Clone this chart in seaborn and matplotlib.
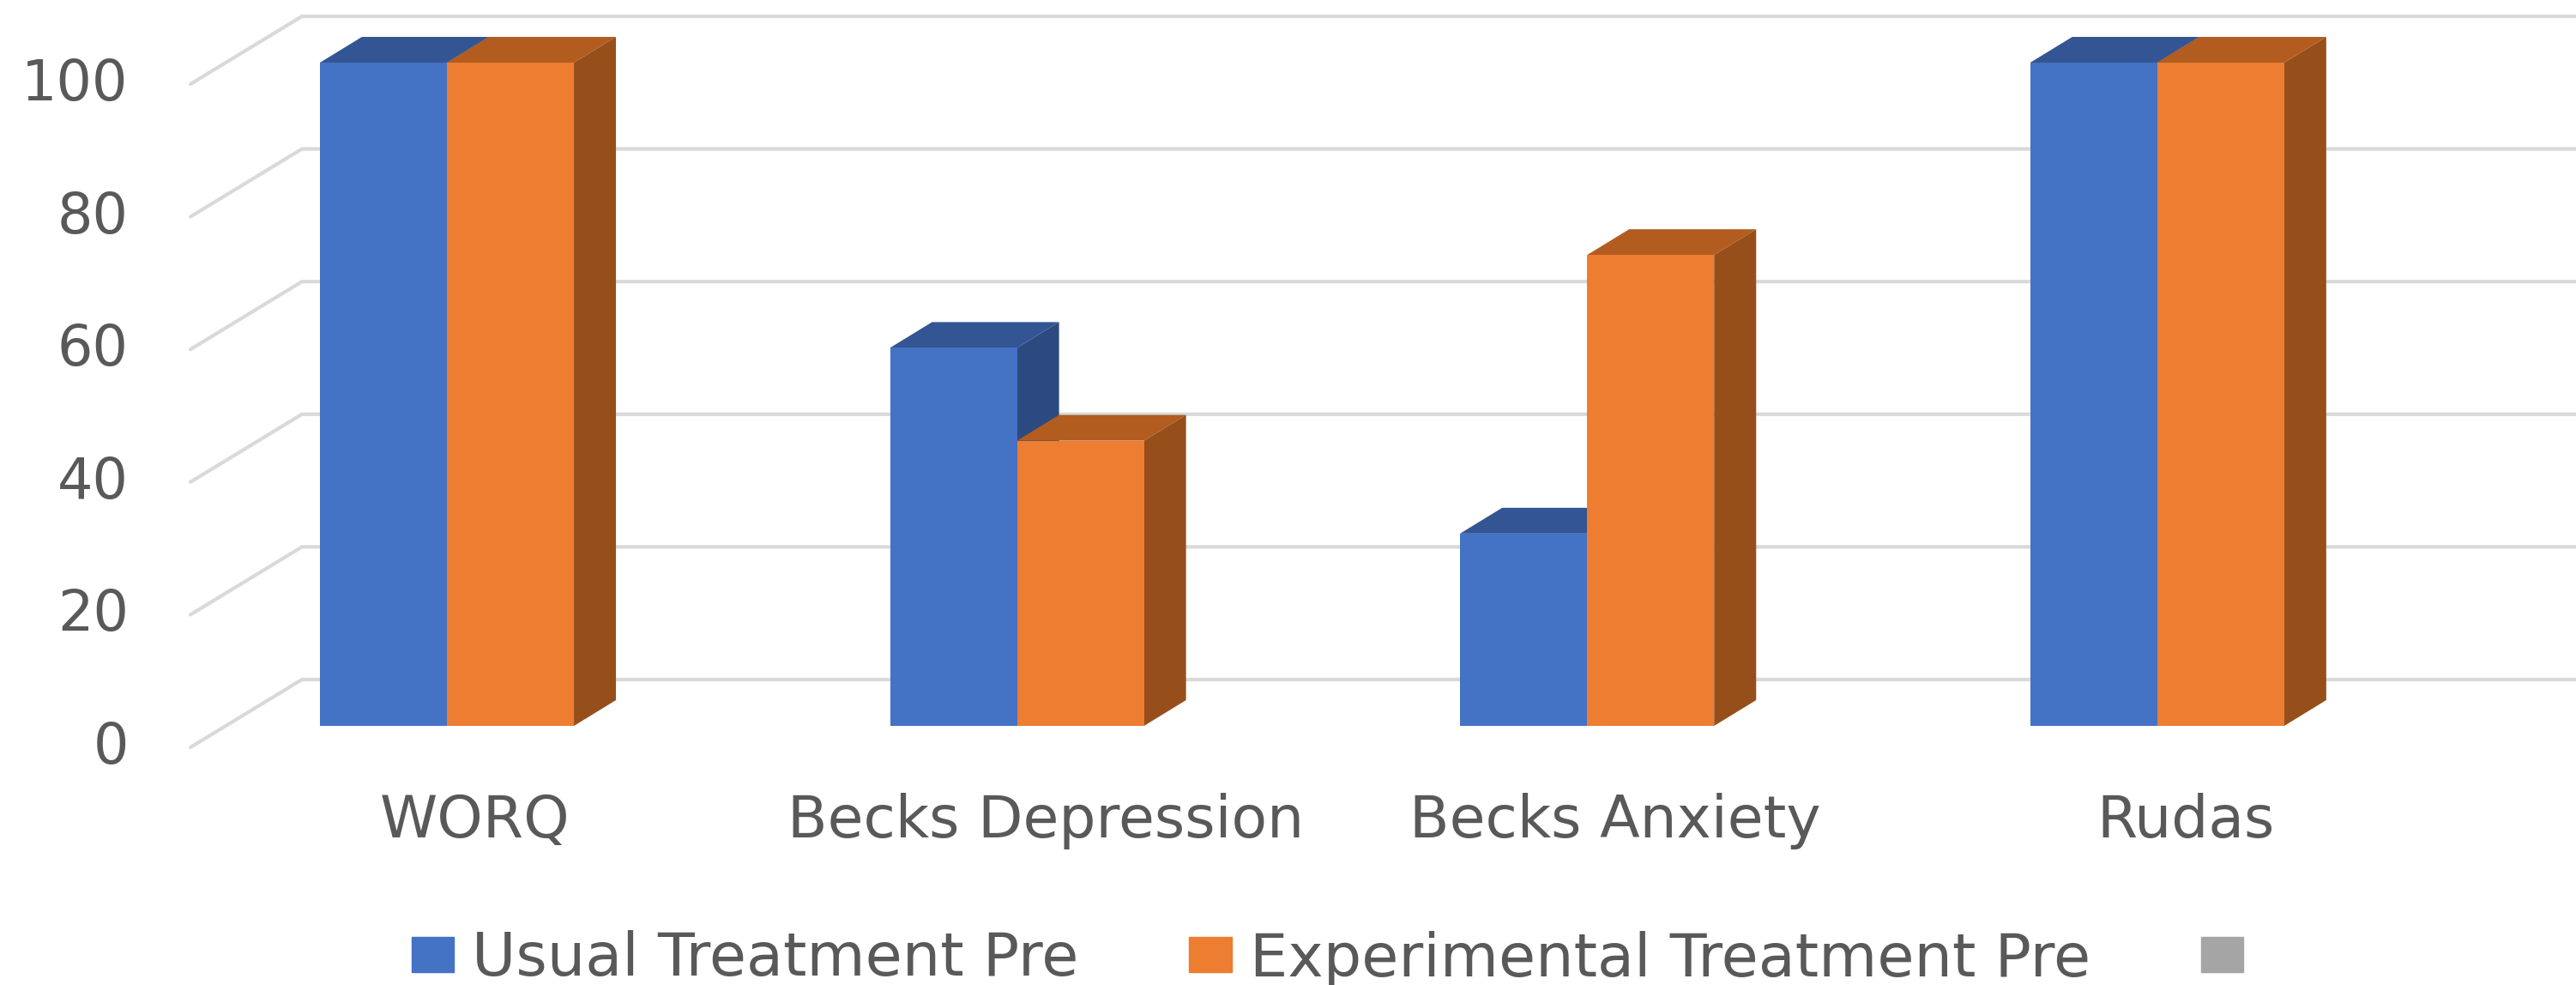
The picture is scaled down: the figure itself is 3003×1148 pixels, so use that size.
import matplotlib
matplotlib.use("Agg")
import matplotlib.pyplot as plt
from matplotlib.patches import Patch, Polygon
from matplotlib.transforms import ScaledTranslation
import pandas as pd
import seaborn as sns

categories = ["WORQ", "Becks Depression", "Becks Anxiety", "Rudas"]
usual_pre = [100, 57, 29, 100]
experimental_pre = [100, 43, 71, 100]
series_names = ["Usual Treatment Pre", "Experimental Treatment Pre"]
y_ticks = [0, 20, 40, 60, 80, 100]

FRONT = ["#4472C4", "#ED7D31"]
SIDE = ["#2C4A80", "#964F1B"]
TOP = ["#335593", "#B35C20"]
EMPTY = "#A5A5A5"
GRID = "#D9D9D9"
TEXT = "#595959"

W, H = 3003, 1148
sns.set_theme(style="white")
plt.rcParams["font.family"] = ["DejaVu Sans"]

fig = plt.figure(figsize=(W / 100, H / 100), dpi=100)
AX_L, AX_B = 222, 900
ax = fig.add_axes([AX_L / W, 1 - AX_B / H, (W - AX_L) / W, AX_B / H])

PX_Y = 7.73      # pixels per value unit
PX_X = 664.6     # pixels per category
BASE = 846
CENTER0 = 521

df = pd.DataFrame({
    "category": categories * 2,
    "series": [series_names[0]] * 4 + [series_names[1]] * 4,
    "value": usual_pre + experimental_pre,
})

sns.barplot(data=df, x="category", y="value", hue="series", order=categories,
            hue_order=series_names, palette=FRONT, saturation=1, width=0.4455,
            gap=0, legend=False, ax=ax, linewidth=0, zorder=3)

ax.set_xlim((AX_L - CENTER0) / PX_X, (W - CENTER0) / PX_X)
ax.set_ylim(-(AX_B - BASE) / PX_Y, BASE / PX_Y)

# back wall and floor-side grid
wall_dy = 54 / PX_Y
tip_dy = -25 / PX_Y
corner = 130 / (W - AX_L)
tr = ax.get_yaxis_transform()
for v in y_ticks:
    ax.plot([0, corner, 1], [v + tip_dy, v + wall_dy, v + wall_dy], color=GRID,
            lw=3.0, transform=tr, zorder=1, clip_on=False, solid_joinstyle="miter")

# Give every bar its depth faces, derived from the bar the library drew
dx = 49 / PX_X
dy = 30 / PX_Y
bars = list(ax.patches)
n = len(categories)
for i, bar in enumerate(bars):
    s = i // n
    x0, w, h = bar.get_x(), bar.get_width(), bar.get_height()
    z = 3 + s
    bar.set_zorder(z + 0.2)
    ax.add_patch(Polygon([(x0, h), (x0 + dx, h + dy), (x0 + w + dx, h + dy), (x0 + w, h)],
                         closed=True, fc=TOP[s], ec="none", zorder=z))
    ax.add_patch(Polygon([(x0 + w, 0), (x0 + w + dx, dy), (x0 + w + dx, h + dy), (x0 + w, h)],
                         closed=True, fc=SIDE[s], ec="none", zorder=z + 0.1))

ax.set_xlabel("")
ax.set_ylabel("")
sns.despine(ax=ax, left=True, bottom=True, top=True, right=True)
ax.set_yticks(y_ticks)
ax.tick_params(axis="y", length=0, pad=52, labelsize=47, labelcolor=TEXT)
ax.tick_params(axis="x", length=0, pad=17, labelsize=49, labelcolor=TEXT)
ax.grid(False)

for lab in ax.get_yticklabels():
    lab.set_transform(lab.get_transform() + ScaledTranslation(0, -19 / 100, fig.dpi_scale_trans))
for lab in ax.get_xticklabels():
    lab.set_transform(lab.get_transform() + ScaledTranslation(33 / 100, 0, fig.dpi_scale_trans))

handles = [Patch(color=FRONT[0]), Patch(color=FRONT[1]), Patch(color=EMPTY)]
fig.legend(handles, series_names + [""], ncol=3, loc="center",
           bbox_to_anchor=(1558 / W, 1 - 1118 / H), frameon=False, fontsize=50.5,
           labelcolor=TEXT, handlelength=0.71, handleheight=0.53, handletextpad=0.3,
           columnspacing=1.83, borderpad=0, borderaxespad=0)

fig.savefig("out.png", dpi=100, facecolor="white")
